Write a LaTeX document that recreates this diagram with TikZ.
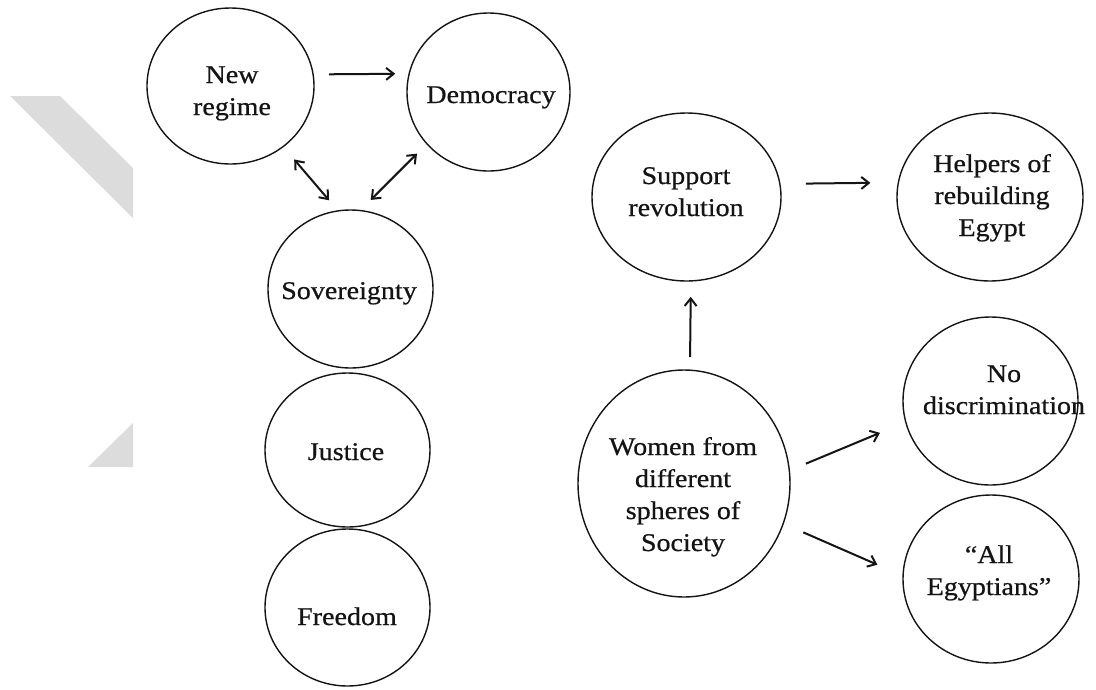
\documentclass[tikz,border=0pt]{standalone}
\usepackage{fontspec}
\setmainfont[FakeStretch=1.1,FakeBold=0.6]{Liberation Serif}
\usetikzlibrary{shapes.geometric,arrows.meta}

\definecolor{ghost}{RGB}{220,220,220}
\definecolor{ink}{RGB}{20,20,20}

% centred lines, anchored on the baseline of the first line
\newcommand{\txtlines}[1]{\begin{tabular}[t]{@{}c@{}}#1\end{tabular}}

\tikzset{
  bubble/.style={ellipse, draw=ink, line width=1.4pt, inner sep=0pt, outer sep=0pt},
  label text/.style={anchor=base, inner sep=0pt, text=ink,
    font=\fontsize{25.5}{32}\selectfont},
  barb/.tip={Straight Barb[length=7.5pt,width=12pt]},
  link/.style={-barb, line width=2pt, draw=ink},
  twoway/.style={barb-barb, line width=2pt, draw=ink},
}

\begin{document}
\begin{tikzpicture}[x=1pt, y=-1pt]
\useasboundingbox (0,0) rectangle (1096,689);
\fill[white] (0,0) rectangle (1096,689);

% faint grey shapes at the left edge
\fill[ghost] (10,96) -- (60,96) -- (133,168) -- (133,218) -- cycle;
\fill[ghost] (88,467) -- (133,423) -- (133,467) -- cycle;

% left group
\node[bubble, minimum width=167pt, minimum height=156pt] (nr)  at (230.5,86)  {};
\node[bubble, minimum width=163pt, minimum height=158pt] (dem) at (488.5,92)  {};
\node[bubble, minimum width=165pt, minimum height=158pt] (sov) at (350.5,289) {};
\node[bubble, minimum width=165pt, minimum height=154pt] (jus) at (347.5,450) {};
\node[bubble, minimum width=165pt, minimum height=157pt] (fre) at (347.5,607.5) {};

\node[label text] (nrT)  at (232,83)  {\txtlines{New\\regime}};
\node[label text] (demT) at (491,103) {Democracy};
\node[label text] (sovT) at (349,299) {Sovereignty};
\node[label text] (jusT) at (346,460) {Justice};
\node[label text] (freT) at (347,625) {Freedom};

% right group
\node[bubble, minimum width=189pt, minimum height=168pt] (sup) at (686.5,197) {};
\node[bubble, minimum width=186pt, minimum height=168pt] (hel) at (990,197)   {};
\node[bubble, minimum width=212pt, minimum height=227pt] (wom) at (684,483.5) {};
\node[bubble, minimum width=175pt, minimum height=168pt] (nod) at (990.5,401) {};
\node[bubble, minimum width=176pt, minimum height=168pt] (all) at (991,579)   {};

\node[label text] (supT) at (686,184)  {\txtlines{Support\\revolution}};
\node[label text] (helT) at (992,172)  {\txtlines{Helpers of\\rebuilding\\Egypt}};
\node[label text] (womT) at (683,455)  {\txtlines{Women from\\different\\spheres of\\Society}};
\node[label text] (nodT) at (1004,382) {\txtlines{No\\discrimination}};
\node[label text] (allT) at (989,563)  {\txtlines{“All\\Egyptians”}};

% connectors
\draw[link, shorten <=16pt, shorten >=14pt] (nr.8.3) -- (dem.167.2);
\draw[twoway, shorten <=17pt, shorten >=14pt] (nr.-49.3) -- (sov.99.6);
\draw[twoway, shorten <=14pt, shorten >=15pt] (dem.220.3) -- (sov.83.6);

\draw[link, shorten <=26pt, shorten >=28pt] (sup.8.5) -- (hel.171.3);
\draw[link, shorten <=13pt, shorten >=16pt] (wom.87) -- (sup.-87.6);
\draw[link, shorten <=18pt, shorten >=28pt] (wom.7.4) -- (nod.194.3);
\draw[link, shorten <=22pt, shorten >=28pt] (wom.-22.4) -- (all.178.2);
\end{tikzpicture}
\end{document}
